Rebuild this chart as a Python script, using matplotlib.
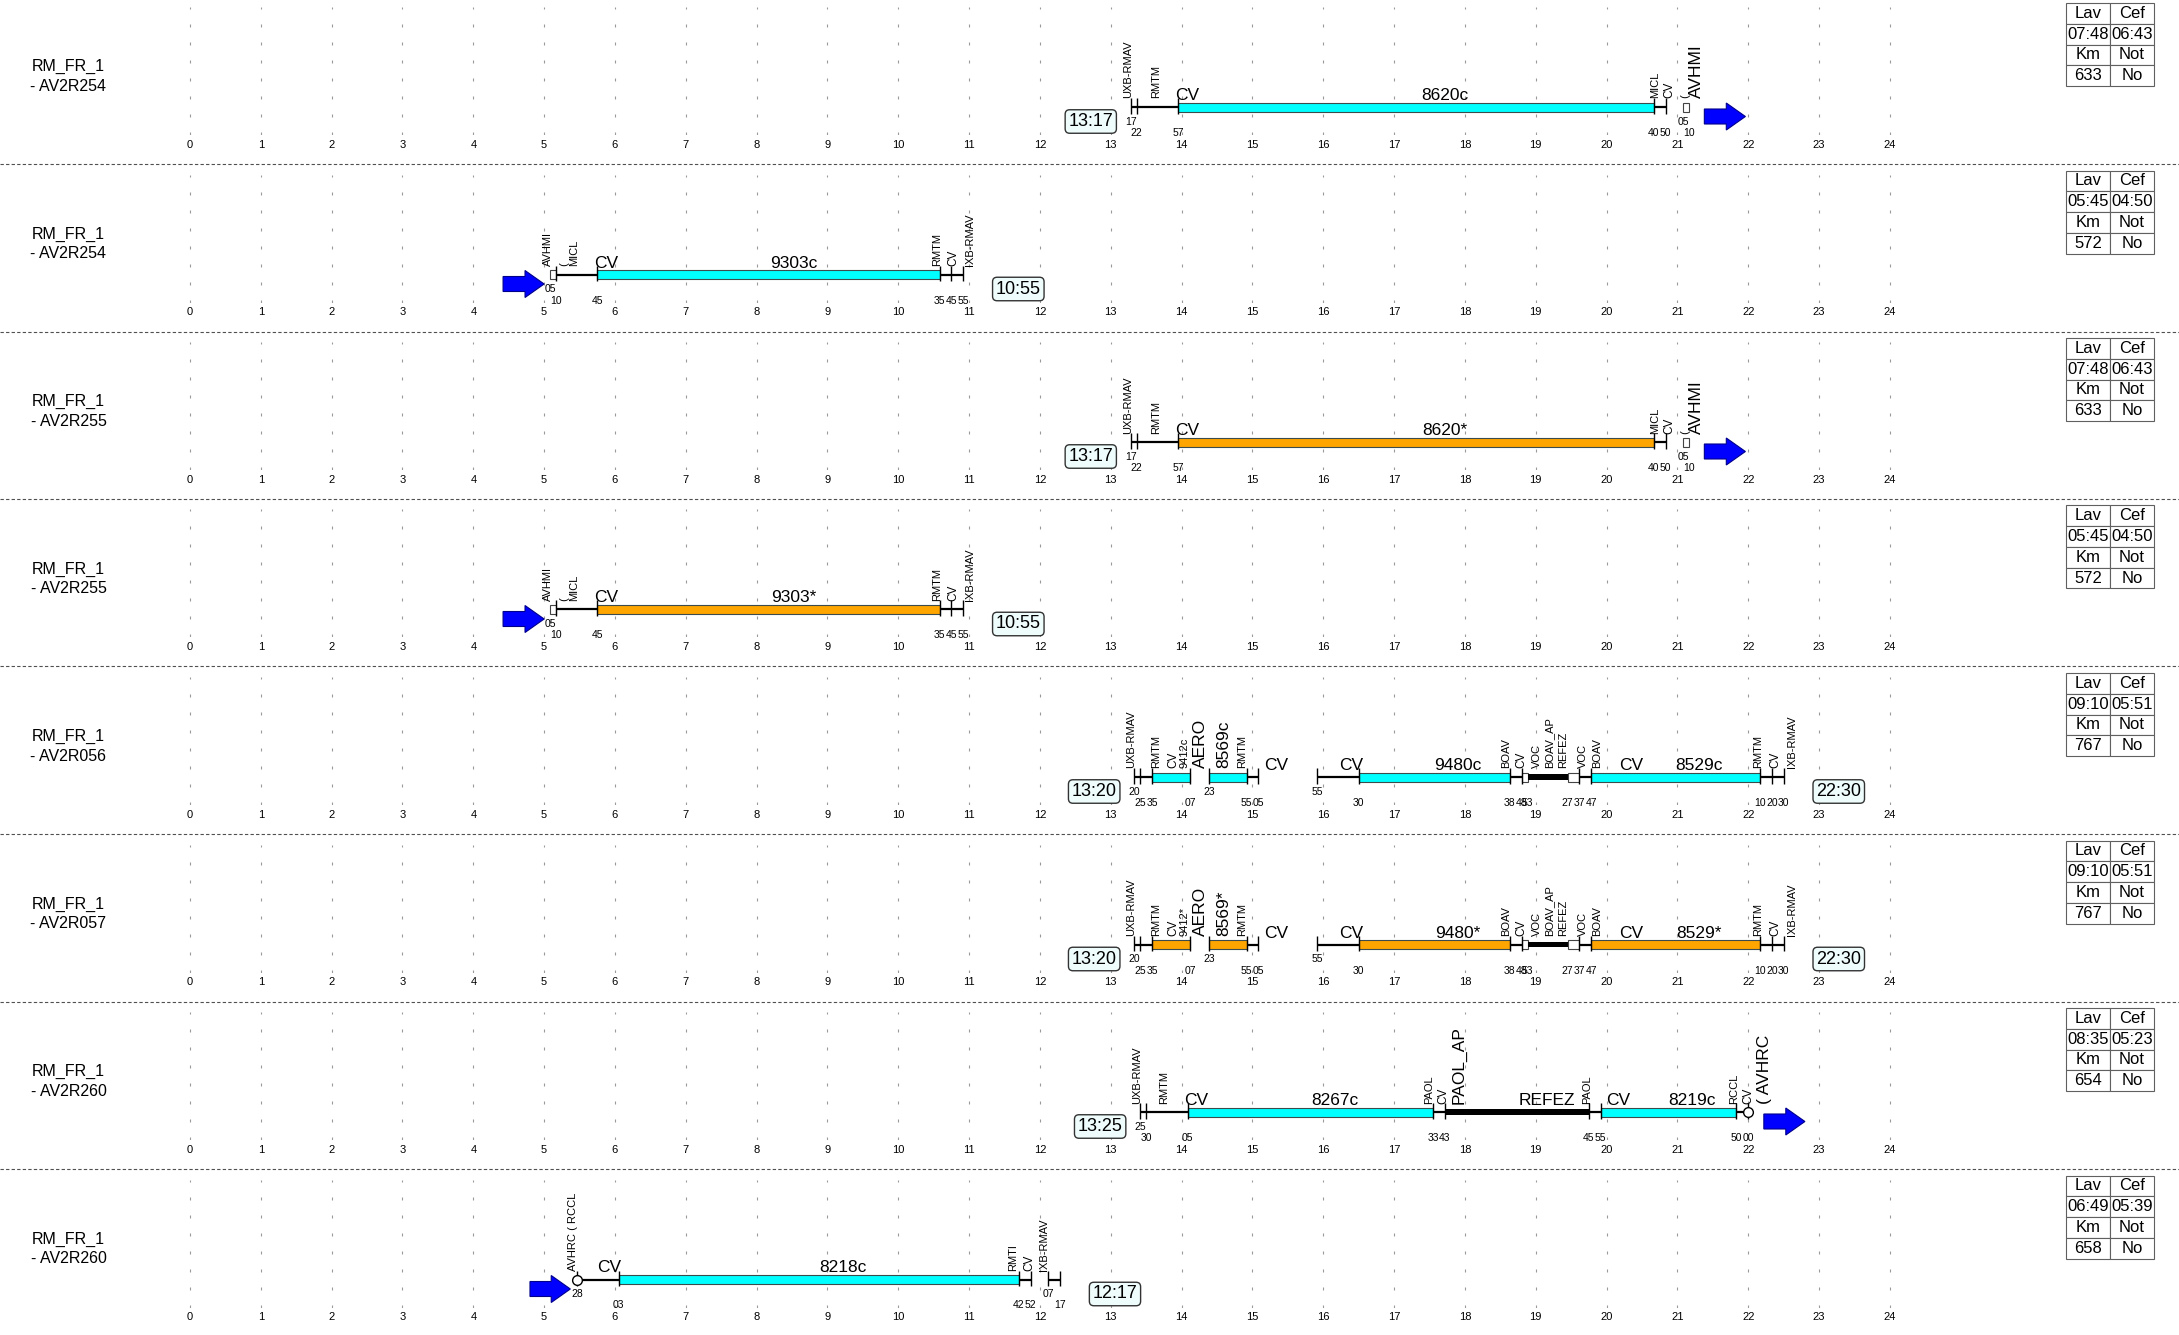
import matplotlib
matplotlib.use("Agg")
import matplotlib.pyplot as plt
from matplotlib.patches import FancyArrow

plt.rcParams['font.family'] = ['Liberation Sans', 'DejaVu Sans']

# ---- data -------------------------------------------------------------
line_name = "RM_FR_1"
services = ["AV2R254", "AV2R254", "AV2R255", "AV2R255",
            "AV2R056", "AV2R057", "AV2R260", "AV2R260"]
status = ["c", "c", "*", "*", "c", "*", "c", "c"]

lav = ["07:48", "05:45", "07:48", "05:45", "09:10", "09:10", "08:35", "06:49"]
cef = ["06:43", "04:50", "06:43", "04:50", "05:51", "05:51", "05:23", "05:39"]
km = ["633", "572", "633", "572", "767", "767", "654", "658"]
notte = ["No", "No", "No", "No", "No", "No", "No", "No"]

# (start, end, kind)  kind: line / bar / box / stop
duty_a = [("13:17", "13:22", "line"), ("13:22", "13:57", "line"), ("13:57", "20:40", "bar"),
          ("20:40", "20:50", "line"), ("21:05", "21:10", "box")]
duty_b = [("05:05", "05:10", "box"), ("05:10", "05:45", "line"), ("05:45", "10:35", "bar"),
          ("10:35", "10:45", "line"), ("10:45", "10:55", "line")]
duty_c = [("13:20", "13:25", "line"), ("13:25", "13:35", "line"), ("13:35", "14:07", "bar"),
          ("14:23", "14:55", "bar"), ("14:55", "15:05", "line"),
          ("15:55", "16:30", "line"), ("16:30", "18:38", "bar"), ("18:38", "18:48", "line"),
          ("18:48", "18:53", "box"), ("18:53", "19:27", "stop"), ("19:27", "19:37", "box"),
          ("19:37", "19:47", "line"), ("19:47", "22:10", "bar"), ("22:10", "22:20", "line"),
          ("22:20", "22:30", "line")]
duty_d = [("13:25", "13:30", "line"), ("13:30", "14:05", "line"), ("14:05", "17:33", "bar"),
          ("17:33", "17:43", "line"), ("17:43", "19:45", "stop"), ("19:45", "19:55", "line"),
          ("19:55", "21:50", "bar"), ("21:50", "22:00", "line")]
duty_e = [("05:28", "06:03", "line"), ("06:03", "11:42", "bar"), ("11:42", "11:52", "line"),
          ("12:07", "12:17", "line")]
segments = [duty_a, duty_b, duty_a, duty_b, duty_c, duty_c, duty_d, duty_e]

depart = ["13:17", None, "13:17", None, "13:20", "13:20", "13:25", None]
arrive = [None, "10:55", None, "10:55", "22:30", "22:30", None, "12:17"]
arrows = [(21.38, 21.96), (4.42, 5.0), (21.38, 21.96), (4.42, 5.0),
          None, None, (22.22, 22.8), (4.8, 5.37)]
circles = [[], [], [], [], [], [], ["22:00"], ["05:28"]]

# station names (small, vertical)
st_a = [(13.24, "UXB-RMAV"), (13.64, "RMTM"), (20.69, "MICL"), (20.88, "CV"), (21.11, "(")]
st_b = [(5.05, "AVHMI"), (5.29, "("), (5.43, "MICL"), (10.55, "RMTM"), (10.78, "CV"),
        (11.01, "IXB-RMAV")]
st_c = [(13.29, "UXB-RMAV"), (13.64, "RMTM"), (13.88, "CV"), (14.04, "9412{}"),
        (14.85, "RMTM"), (18.58, "BOAV"), (18.79, "CV"), (19.01, "VOC"), (19.19, "BOAV_AP"),
        (19.39, "REFEZ"), (19.67, "VOC"), (19.87, "BOAV"), (22.14, "RMTM"), (22.38, "CV"),
        (22.62, "IXB-RMAV")]
st_d = [(13.37, "UXB-RMAV"), (13.75, "RMTM"), (17.5, "PAOL"), (17.7, "CV"), (19.72, "PAOL"),
        (21.8, "RCCL"), (22.0, "CV")]
st_e = [(5.41, "AVHRC ( RCCL"), (11.62, "RMTI"), (11.85, "CV"), (12.05, "IXB-RMAV")]
stations = [st_a, st_b, st_a, st_b, st_c, st_c, st_d, st_e]

# big vertical marks
bm_a = [(21.27, "AVHMI")]
bm_c = [(14.27, "AERO"), (14.6, "8569{}")]
bm_d = [(17.92, "PAOL_AP"), (22.23, "( AVHRC")]
big_marks = [bm_a, [], bm_a, [], bm_c, bm_c, bm_d, []]

# horizontal captions
cp_a = [(14.08, "CV"), (17.72, "8620{}")]
cp_b = [(5.88, "CV"), (8.53, "9303{}")]
cp_c = [(15.33, "CV"), (16.39, "CV"), (17.9, "9480{}"), (20.35, "CV"), (21.3, "8529{}")]
cp_d = [(14.2, "CV"), (16.17, "8267{}"), (19.15, "REFEZ"), (20.17, "CV"), (21.2, "8219{}")]
cp_e = [(5.92, "CV"), (9.22, "8218{}")]
captions = [cp_a, cp_b, cp_a, cp_b, cp_c, cp_c, cp_d, cp_e]

hours = list(range(25))


def hrs(s):
    h, m = s.split(":")
    return int(h) + int(m) / 60.0


# ---- figure -------------------------------------------------------------
W, H = 2179, 1335
fig = plt.figure(figsize=(W / 100, H / 100), dpi=100)
pitch = 167.5
x0px, hpx = 190.0, 70.83
xlim = (-x0px / hpx, (W - x0px) / hpx)
bar_col = {"c": "#00ffff", "*": "#ffa500"}
YB = 110

for k in range(8):
    top = k * pitch - 3
    ax = fig.add_axes([0, 1 - (top + 138) / H, 1, 128 / H])
    ax.set_xlim(*xlim)
    ax.set_ylim(138, 10)
    for sp in ax.spines.values():
        sp.set_visible(False)
    ax.set_yticks([])
    ax.set_xticks(hours)
    ax.tick_params(axis='x', length=0, pad=3.5, labelsize=8)
    ax.set_axisbelow(True)
    ax.grid(axis='x', color='#9a9a9a', linestyle=(0, (2.7, 13.5)), lw=0.8)
    tag = status[k]

    # left name
    ax.text(68.5 / W, 79.4, line_name + "\n- " + services[k], transform=ax.get_yaxis_transform(),
            ha='center', va='center', multialignment='center', fontsize=11.5, clip_on=False,
            linespacing=1.4)

    # chains of segments
    chains = []
    for s, e, kind in segments[k]:
        if chains and chains[-1][-1][1] == s:
            chains[-1].append((s, e, kind))
        else:
            chains.append([(s, e, kind)])

    for s, e, kind in segments[k]:
        a, b = hrs(s), hrs(e)
        if kind == "line":
            ax.hlines(YB, a, b, color='black', lw=1.6, zorder=2)
        elif kind == "bar":
            ax.barh(YB, b - a, left=a, height=9, color=bar_col[tag], edgecolor='#3c4c4c',
                    lw=0.8, zorder=3)
        elif kind == "box":
            ax.barh(YB, b - a, left=a, height=9, color='white', edgecolor='#444444',
                    lw=0.8, zorder=3)
        else:
            ax.barh(YB, b - a, left=a, height=5.5, color='black', lw=0, zorder=3)

    for ch in chains:
        pts = [ch[0][0]] + [seg[1] for seg in ch]
        for i, p in enumerate(pts):
            kinds = [seg[2] for seg in ch if seg[0] == p or seg[1] == p]
            if "line" in kinds or "bar" in kinds:
                ax.vlines(hrs(p), 101, 116.5, color='black', lw=1.0, zorder=4)
            ax.text(hrs(p), 124.7 if i == 0 else 136, p[3:], ha='center', va='center',
                    fontsize=7.5, clip_on=False)

    for c in circles[k]:
        ax.plot(hrs(c), YB, 'o', mfc='white', mec='black', ms=7, mew=1, zorder=5)

    if arrows[k]:
        a, b = arrows[k]
        ax.add_patch(FancyArrow(a, 119.5, b - a, 0, width=15, head_width=27, head_length=0.27,
                                length_includes_head=True, fc='#0000ff', ec='#00008b',
                                lw=0.8, zorder=5))

    for x, txt in stations[k]:
        ax.text(x, 101.5, txt.format(tag), rotation=90, ha='center', va='bottom',
                fontsize=8.5 if txt == "CV" else 8, clip_on=False)
    for x, txt in big_marks[k]:
        ax.text(x, 101.5, txt.format(tag), rotation=90, ha='center', va='bottom',
                fontsize=12.5, clip_on=False)
    for x, txt in captions[k]:
        ax.text(x, 103, txt.format(tag), ha='center', va='baseline', fontsize=12.5,
                clip_on=False)

    box = dict(boxstyle='round,pad=0.18,rounding_size=0.25', fc='#effcfc', ec='#333333', lw=1)
    if depart[k]:
        ax.text(hrs(depart[k]) - 0.25, 124.5, depart[k], ha='right', va='center',
                fontsize=13, bbox=box, zorder=6)
    if arrive[k]:
        ax.text(hrs(arrive[k]) + 0.46, 124.5, arrive[k], ha='left', va='center',
                fontsize=13, bbox=box, zorder=6)

    # summary table
    tb = ax.table(cellText=[["Lav", "Cef"], [lav[k], cef[k]], ["Km", "Not"], [km[k], notte[k]]],
                  cellLoc='center', bbox=[2066 / W, (138 - 89) / 128, 88 / W, 83 / 128])
    tb.auto_set_font_size(False)
    tb.set_fontsize(12)
    for cell in tb.get_celld().values():
        cell.set_edgecolor('#606060')
        cell.set_linewidth(0.8)
    tb.set_clip_on(False)

    if k < 7:
        ax.axhline(167, color='#505050', lw=0.8, linestyle=(0, (3, 2)), clip_on=False)

fig.savefig("out.png", dpi=100)
